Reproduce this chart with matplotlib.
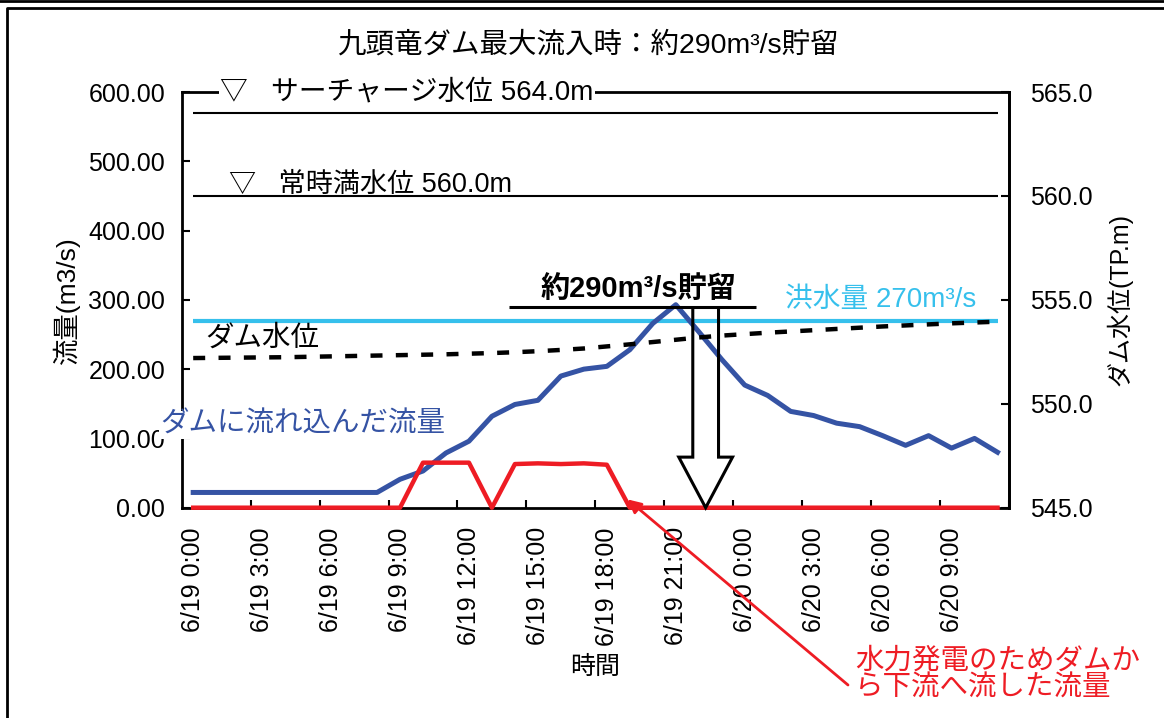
import numpy as np
import matplotlib
matplotlib.use("Agg")
import matplotlib.pyplot as plt
from matplotlib.lines import Line2D
from matplotlib.patches import Polygon
from matplotlib.ticker import FormatStrFormatter, MultipleLocator

plt.rcParams['font.family'] = ['Liberation Sans', 'Noto Sans CJK JP', 'DejaVu Sans']

# hourly data, 6/19 0:00 .. 6/20 11:00
inflow = [22, 22, 22, 22, 22, 22, 22, 22, 22, 41, 53, 79, 96, 132, 149, 155, 190, 200,
          204, 228, 266, 293, 254, 214, 177, 162, 139, 133, 122, 117, 104, 90, 104, 86, 100, 80]
discharge = [0, 0, 0, 0, 0, 0, 0, 0, 0, 0, 65, 65, 65, 0, 63, 64, 63, 64,
             62, 0, 0, 0, 0, 0, 0, 0, 0, 0, 0, 0, 0, 0, 0, 0, 0, 0]
dam_level = [552.20, 552.21, 552.22, 552.23, 552.24, 552.26, 552.28, 552.30, 552.32,
             552.34, 552.36, 552.38, 552.41, 552.44, 552.48, 552.53, 552.59, 552.66,
             552.76, 552.86, 552.97, 553.08, 553.19, 553.28, 553.35, 553.42, 553.48,
             553.54, 553.60, 553.66, 553.72, 553.77, 553.82, 553.87, 553.91, 553.95]
tick_labels = ["6/19 0:00", "6/19 3:00", "6/19 6:00", "6/19 9:00", "6/19 12:00", "6/19 15:00",
               "6/19 18:00", "6/19 21:00", "6/20 0:00", "6/20 3:00", "6/20 6:00", "6/20 9:00"]
flood_flow = 270
storage = 290
surcharge_level = 564.0
normal_level = 560.0

BLUE = '#3553a4'
RED = '#ee1c24'
CYAN = '#36c0ec'

W, H = 1164, 718
def fp(x, y):
    # image pixel -> figure fraction
    return x / W, 1 - y / H

fig = plt.figure(figsize=(W / 100, H / 100), dpi=100)
ax = fig.add_axes([181.7 / W, 1 - 507.7 / H, (1009 - 181.7) / W, (507.7 - 92) / H])
ax2 = ax.twinx()

x = np.arange(len(inflow))

ax.hlines(flood_flow, x[0], x[-1], color=CYAN, lw=3.0, zorder=2)
ax.plot(x, inflow, color=BLUE, lw=3.6, zorder=3)
ax.plot(x, discharge, color=RED, lw=3.2, zorder=4, clip_on=False)

ax2.hlines([surcharge_level, normal_level], x[0], x[-1], color='black', lw=1.5)
ax2.plot(x, dam_level, color='black', lw=3.2, linestyle=(0, (2.7, 3.0)), dash_capstyle='butt')

ax.set_xlim(-0.5, len(inflow) - 0.5)
ax.set_ylim(0, 600)
ax2.set_ylim(545, 565)

ax.set_xticks(x[::3])
ax.set_xticklabels(tick_labels, rotation=90, fontsize=18, va='top', ha='center')
ax.set_xticks(np.arange(2.5, len(inflow), 3), minor=True)
ax.tick_params(axis='x', which='major', length=0, pad=14)
ax.tick_params(axis='x', which='minor', direction='in', length=6, width=1.5)
ax.yaxis.set_major_locator(MultipleLocator(100))
ax.yaxis.set_major_formatter(FormatStrFormatter('%.2f'))
ax.tick_params(axis='y', direction='in', length=6, width=1.5, labelsize=18, pad=12)
ax2.yaxis.set_major_locator(MultipleLocator(5))
ax2.yaxis.set_major_formatter(FormatStrFormatter('%.1f'))
ax2.tick_params(axis='y', direction='in', length=6, width=1.5, labelsize=18, pad=15)

for s in ax.spines.values():
    s.set_linewidth(2)
for name in ['top', 'bottom', 'left']:
    ax2.spines[name].set_visible(False)
ax2.spines['right'].set_linewidth(2)

ax.set_ylabel('流量(m3/s)', fontsize=19)
ax.yaxis.set_label_coords(-0.123, 0.5)
ax2.set_ylabel('ダム水位(TP.m)', fontsize=18)
ax2.yaxis.set_label_coords(1.118, 0.5)
ax.set_xlabel('時間', fontsize=18)
ax.xaxis.set_label_coords(0.5, -0.355)

# storage arrow and bar
ax_c = 22.3
shaft, head, head_base = 0.56, 1.17, 73
arrow = Polygon([(ax_c - shaft, storage), (ax_c - shaft, head_base), (ax_c - head, head_base),
                 (ax_c, 0), (ax_c + head, head_base), (ax_c + shaft, head_base),
                 (ax_c + shaft, storage)], closed=False, fill=False, ec='black', lw=2.2,
                joinstyle='miter', zorder=5, clip_on=False)
ax.add_patch(arrow)
ax.hlines(storage, 13.75, 24.5, color='black', lw=2.2, zorder=5)
ax.text(19.36, storage + 25, '約290m³/s貯留', fontsize=21, fontweight='bold',
        ha='center', va='center', zorder=6)

# text labels
fig.text(*fp(220, 93), '▽   サーチャージ水位 564.0m', fontsize=20, va='center', ha='left',
         bbox=dict(fc='white', ec='none', pad=1), zorder=5)
fig.text(*fp(229, 185), '▽   常時満水位 560.0m', fontsize=19.5, va='center', ha='left', zorder=5)
fig.text(*fp(205, 338), 'ダム水位', fontsize=20.5, va='center', ha='left', zorder=5)
fig.text(*fp(160, 425), 'ダムに流れ込んだ流量', fontsize=20.5, color=BLUE, va='center', ha='left',
         bbox=dict(fc='white', ec='none', pad=1), zorder=5)
fig.text(*fp(785, 300), '洪水量 270m³/s', fontsize=20, color=CYAN, va='center', ha='left', zorder=5)
fig.text(*fp(588, 45), '九頭竜ダム最大流入時：約290m³/s貯留', fontsize=20.5, va='center', ha='center')

fig.text(*fp(855, 675), '水力発電のためダムか\nら下流へ流した流量', fontsize=20.5, color=RED,
         va='center', ha='left', linespacing=1.05)
ax.annotate('', xy=(18.9, 12), xycoords='data', xytext=fp(848, 685), textcoords='figure fraction',
            arrowprops=dict(arrowstyle='-|>', color=RED, lw=2, mutation_scale=20, shrinkA=0, shrinkB=0),
            annotation_clip=False)

# outer frame
fig.add_artist(Line2D([0, 1], [1 - 1.2 / H] * 2, color='black', lw=2, transform=fig.transFigure))
fig.add_artist(Line2D([6.5 / W, 6.5 / W, 1], [0, 1 - 8 / H, 1 - 8 / H], color='black', lw=2,
                      transform=fig.transFigure))

fig.savefig('out.png', dpi=100)
